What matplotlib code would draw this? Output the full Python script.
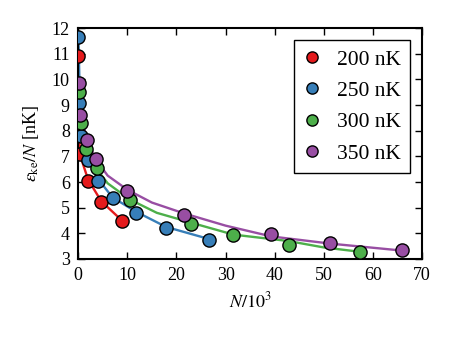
import matplotlib
matplotlib.use('Agg')
import matplotlib.pyplot as plt

plt.rcParams['font.family'] = ['Liberation Serif', 'DejaVu Serif']
plt.rcParams['mathtext.fontset'] = 'stix'
plt.rcParams['font.size'] = 13

labels = ['200 nK', '250 nK', '300 nK', '350 nK']
colors = ['#e41a1c', '#377eb8', '#4daf4a', '#984ea3']

# measured points (N/10^3, eps_ke/N in nK)
n_200 = [0.05, 0.3, 2.0, 4.7, 8.9]
e_200 = [10.9, 7.1, 6.05, 5.22, 4.48]
n_250 = [0.05, 0.1, 0.5, 2.0, 4.1, 7.0, 11.7, 17.9, 26.6]
e_250 = [11.65, 9.1, 7.8, 6.85, 6.06, 5.38, 4.8, 4.22, 3.76]
n_300 = [0.1, 0.5, 1.6, 3.8, 10.5, 22.9, 31.6, 42.8, 57.4]
e_300 = [9.5, 8.3, 7.28, 6.53, 5.3, 4.36, 3.93, 3.54, 3.26]
n_350 = [0.1, 0.4, 1.8, 3.6, 10.0, 21.5, 39.3, 51.3, 65.8]
e_350 = [9.85, 8.6, 7.63, 6.9, 5.66, 4.73, 3.96, 3.63, 3.35]

# curves drawn through the points
ln_200 = [0.05, 0.3, 2.0, 4.7, 8.9]
le_200 = [10.9, 7.1, 6.1, 5.25, 4.5]
ln_250 = [0.05, 0.5, 2.0, 4.1, 7.0, 11.7, 17.9, 26.6]
le_250 = [11.65, 7.8, 6.85, 6.1, 5.4, 4.85, 4.25, 3.78]
ln_300 = [0.1, 0.5, 1.6, 3.8, 6.0, 10.5, 16.0, 22.9, 31.6, 42.8, 50.0, 57.4]
le_300 = [9.5, 8.3, 7.3, 6.5, 5.95, 5.32, 4.8, 4.42, 3.95, 3.7, 3.45, 3.28]
ln_350 = [0.1, 0.6, 1.8, 3.7, 6.0, 10.0, 15.0, 21.5, 30.0, 39.3, 51.3, 65.8]
le_350 = [9.85, 8.6, 7.6, 6.85, 6.25, 5.7, 5.2, 4.78, 4.3, 3.88, 3.6, 3.33]

pts = [(n_200, e_200), (n_250, e_250), (n_300, e_300), (n_350, e_350)]
curves = [(ln_200, le_200), (ln_250, le_250), (ln_300, le_300), (ln_350, le_350)]

fig = plt.figure(figsize=(4.52, 3.39), dpi=100)
ax = fig.add_axes([0.173, 0.236, 0.761, 0.681])

for (cx, cy), c in zip(curves, colors):
    ax.plot(cx, cy, '-', color=c, lw=1.7, zorder=2)
for (px, py), c, lab in zip(pts, colors, labels):
    ax.plot(px, py, 'o', color=c, mec='black', mew=1.0, ms=9.5,
            ls='none', label=lab, zorder=3)

ax.set_xlim(0, 70)
ax.set_ylim(3, 12)
ax.set_xticks(range(0, 71, 10))
ax.set_yticks(range(3, 13))
ax.tick_params(direction='in', top=True, right=True, length=5, width=1, pad=6)
for s in ax.spines.values():
    s.set_linewidth(1.5)

ax.set_xlabel(r'$N/10^3$', labelpad=5)
ax.set_ylabel(r'$\varepsilon_{\mathrm{ke}}/N$ [nK]', labelpad=8)

leg = ax.legend(loc='upper right', numpoints=1, fancybox=False, markerscale=0.85,
                fontsize=15.5, labelspacing=0.52, borderpad=0.45,
                handletextpad=0.78, handlelength=0.77,
                borderaxespad=0.55, framealpha=1)
leg.get_frame().set_edgecolor('black')
leg.get_frame().set_linewidth(1.0)

fig.savefig('out.png', dpi=100)
